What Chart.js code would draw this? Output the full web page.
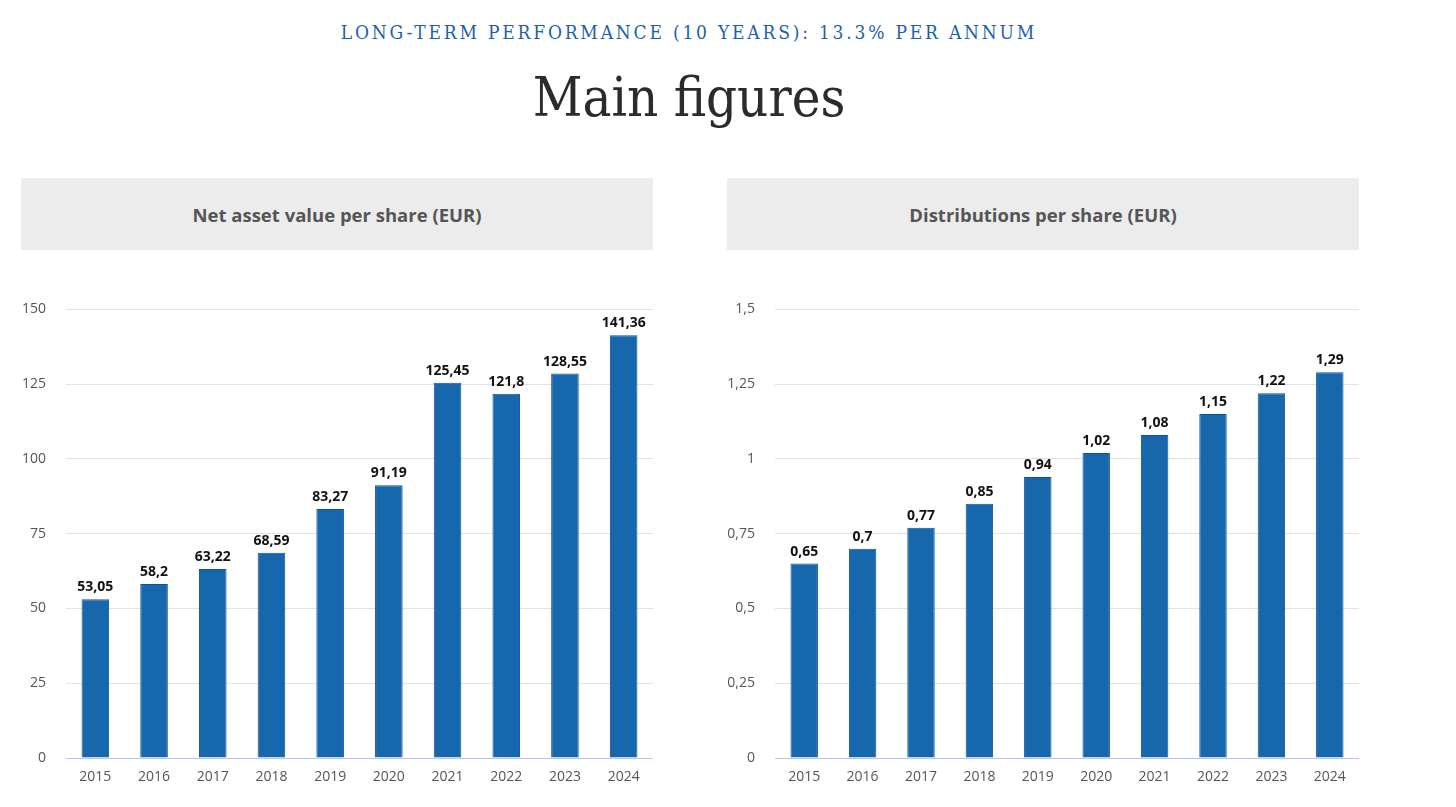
<!DOCTYPE html>
<html>
<head>
<meta charset="utf-8">
<script src="https://cdn.jsdelivr.net/npm/chart.js@4.4.1/dist/chart.umd.min.js"></script>
<style>
  html, body { margin: 0; padding: 0; background: #fff; }
  body { width: 1456px; height: 807px; position: relative; overflow: hidden; font-family: "Open Sans", sans-serif; }
  .kicker {
    position: absolute; left: 0; width: 1378px; top: 21px; text-align: center;
    font-family: "DejaVu Serif Condensed", "DejaVu Serif", serif; font-size: 19px;
    letter-spacing: 2.8px; color: #1b5fae;
  }
  .title {
    position: absolute; left: 0; width: 1378px; top: 66px; text-align: center;
    font-family: "DejaVu Serif Condensed", "DejaVu Serif", serif; font-size: 54px;
    color: #2b2b2b; font-weight: normal;
  }
  .panel-head {
    position: absolute; top: 178px; height: 72px; width: 632px; background: #ececec;
    display: flex; align-items: center; justify-content: center;
    font-family: "Open Sans", sans-serif; font-weight: bold; font-size: 18.5px; color: #555;
  }
  .chart-box { position: absolute; top: 281px; width: 632px; height: 519px; }
</style>
</head>
<body>
<div class="kicker">LONG-TERM PERFORMANCE (10 YEARS): 13.3% PER ANNUM</div>
<div class="title">Main figures</div>

<div class="panel-head" style="left:21px">Net asset value per share (EUR)</div>
<div class="panel-head" style="left:727px">Distributions per share (EUR)</div>

<div class="chart-box" style="left:21px"><canvas id="navChart"></canvas></div>
<div class="chart-box" style="left:727px"><canvas id="distChart"></canvas></div>

<script>
const years = ["2015", "2016", "2017", "2018", "2019", "2020", "2021", "2022", "2023", "2024"];
const navValues = [53.05, 58.2, 63.22, 68.59, 83.27, 91.19, 125.45, 121.8, 128.55, 141.36];
const distValues = [0.65, 0.7, 0.77, 0.85, 0.94, 1.02, 1.08, 1.15, 1.22, 1.29];
const navTicks = [0, 25, 50, 75, 100, 125, 150];
const distTicks = [0, 0.25, 0.5, 0.75, 1, 1.25, 1.5];

const BAR_COLOR = "#1767ad";
const BAR_BORDER = "#0d549b";

function formatComma(value) {
  return String(value).replace(".", ",");
}

const valueLabels = {
  id: "valueLabels",
  afterDatasetsDraw(chart) {
    const ctx = chart.ctx;
    const meta = chart.getDatasetMeta(0);
    const data = chart.data.datasets[0].data;
    ctx.save();
    ctx.font = "bold 14px 'Open Sans', sans-serif";
    ctx.fillStyle = "#111";
    ctx.textAlign = "center";
    ctx.textBaseline = "bottom";
    meta.data.forEach((bar, i) => {
      ctx.fillText(formatComma(data[i]), bar.x, bar.y - 5);
    });
    ctx.restore();
  }
};

function makeChart(canvasId, values, ticks, yWidth) {
  const max = ticks[ticks.length - 1];
  const step = ticks[1] - ticks[0];

  return new Chart(document.getElementById(canvasId), {
    type: "bar",
    data: {
      labels: years,
      datasets: [
        {
          data: values,
          backgroundColor: BAR_COLOR,
          borderColor: BAR_BORDER,
          borderWidth: 1,
          barPercentage: 0.47,
          categoryPercentage: 1
        }
      ]
    },
    options: {
      responsive: true,
      maintainAspectRatio: false,
      animation: false,
      layout: { padding: { top: 9, right: 0, left: 0, bottom: 0 } },
      plugins: {
        legend: { display: false },
        tooltip: { enabled: false }
      },
      scales: {
        x: {
          grid: { display: false, drawTicks: false },
          border: { display: true, color: "#b5c7ea", width: 1 },
          ticks: {
            color: "#555",
            font: { family: "'Open Sans', sans-serif", size: 14 },
            padding: 11
          },
          afterFit(scale) {
            scale.height = 42;
          }
        },
        y: {
          min: 0,
          max: max,
          grid: {
            color: (c) => (c.tick && c.tick.value === 0 ? "#b5c7ea" : "#e2e2e2"),
            drawTicks: false
          },
          border: { display: false },
          afterBuildTicks(scale) {
            scale.ticks = ticks.map((v) => ({ value: v }));
          },
          ticks: {
            stepSize: step,
            color: "#555",
            font: { family: "'Open Sans', sans-serif", size: 14 },
            padding: 20,
            callback: (value) => formatComma(value)
          },
          afterFit(scale) {
            scale.width = yWidth;
          }
        }
      }
    },
    plugins: [valueLabels]
  });
}

makeChart("navChart", navValues, navTicks, 45);
makeChart("distChart", distValues, distTicks, 48);
</script>
</body>
</html>
